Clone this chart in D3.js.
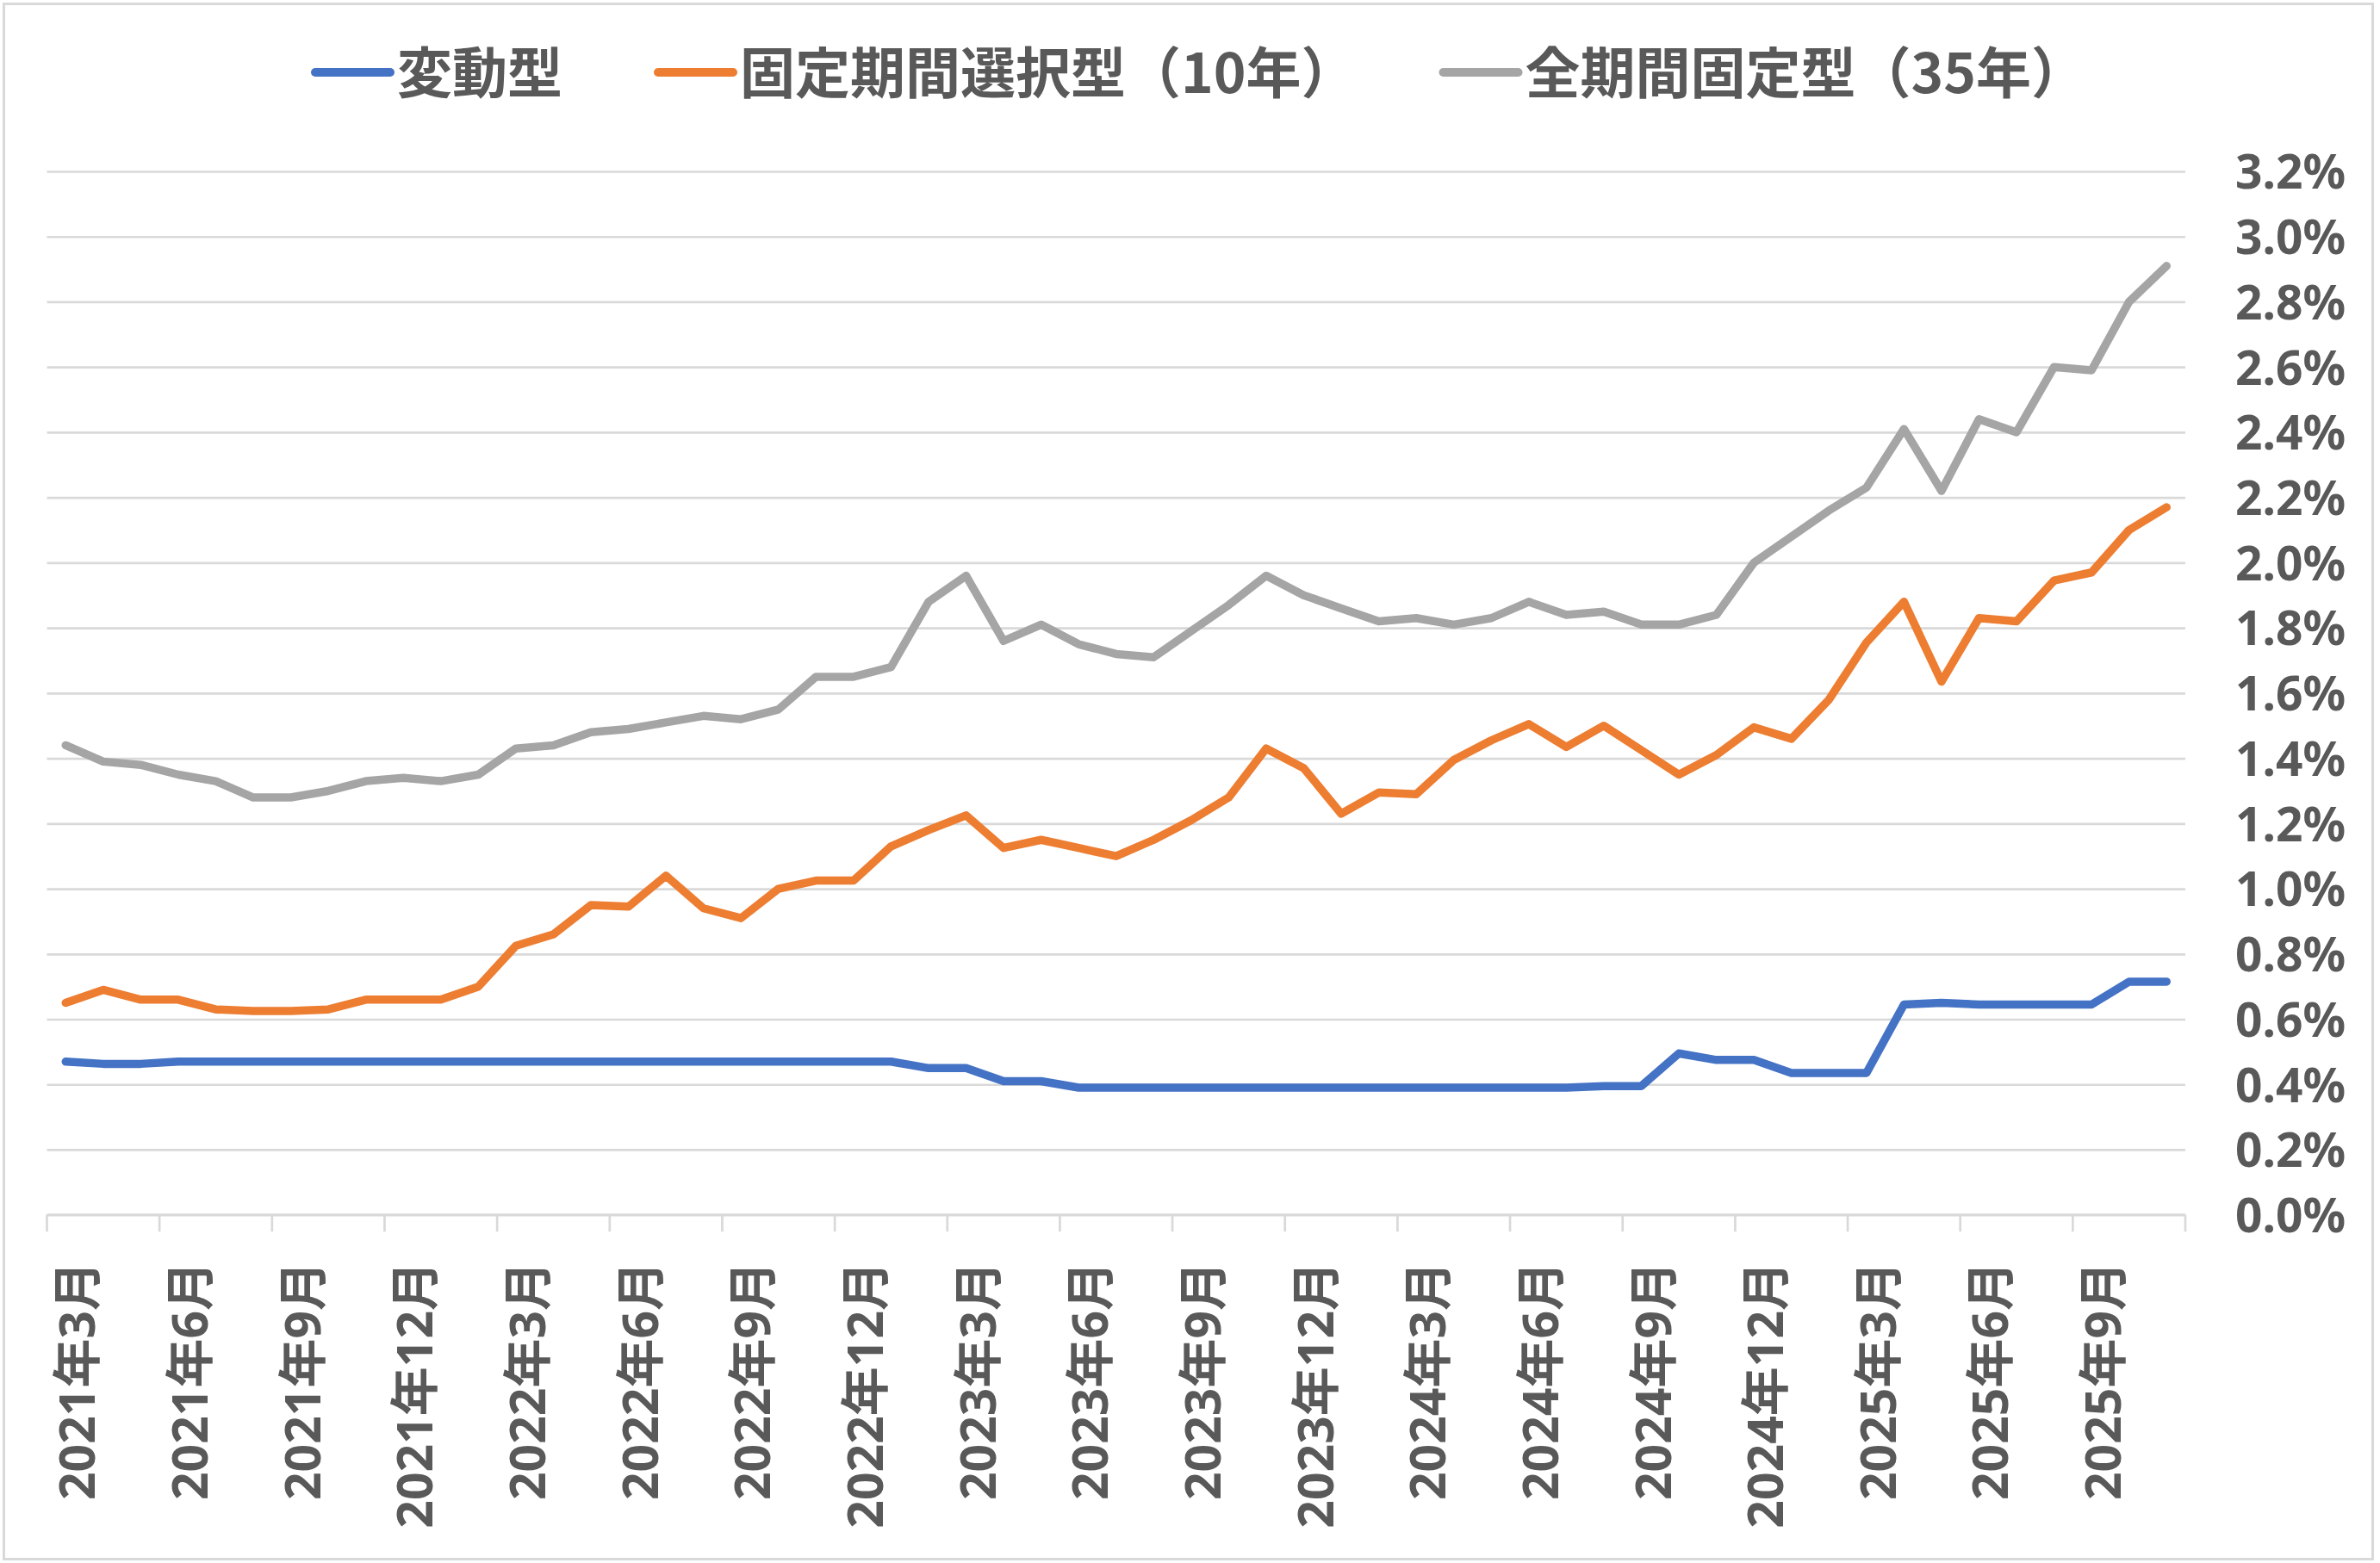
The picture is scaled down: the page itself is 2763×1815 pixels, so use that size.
<!DOCTYPE html>
<html><head><meta charset="utf-8">
<script src="https://cdn.jsdelivr.net/npm/d3@7"></script>
<style>
html,body{margin:0;padding:0;background:#fff;}
svg{display:block;}
</style></head>
<body>
<svg id="chart" width="2763" height="1815"></svg>
<script>
const months = [
"2021年3月","2021年4月","2021年5月","2021年6月","2021年7月","2021年8月","2021年9月","2021年10月","2021年11月","2021年12月",
"2022年1月","2022年2月","2022年3月","2022年4月","2022年5月","2022年6月","2022年7月","2022年8月","2022年9月","2022年10月","2022年11月","2022年12月",
"2023年1月","2023年2月","2023年3月","2023年4月","2023年5月","2023年6月","2023年7月","2023年8月","2023年9月","2023年10月","2023年11月","2023年12月",
"2024年1月","2024年2月","2024年3月","2024年4月","2024年5月","2024年6月","2024年7月","2024年8月","2024年9月","2024年10月","2024年11月","2024年12月",
"2025年1月","2025年2月","2025年3月","2025年4月","2025年5月","2025年6月","2025年7月","2025年8月","2025年9月","2025年10月","2025年11月"];

const seriesNames = ["変動型","固定期間選択型（10年）","全期間固定型（35年）"];
const seriesColors = ["#4472C4","#ED7D31","#A5A5A5"];

const variableRate = [
0.47,0.463,0.463,0.47,0.47,0.47,0.47,0.47,0.47,0.47,
0.47,0.47,0.47,0.47,0.47,0.47,0.47,0.47,0.47,0.47,0.47,0.47,
0.47,0.45,0.45,0.41,0.41,0.39,0.39,0.39,0.39,0.39,0.39,0.39,
0.39,0.39,0.39,0.39,0.39,0.39,0.39,0.395,0.395,0.495,0.475,0.475,
0.435,0.435,0.435,0.645,0.65,0.645,0.645,0.645,0.645,0.715,0.715];

const fixed10 = [
0.65,0.69,0.66,0.66,0.63,0.625,0.625,0.63,0.66,0.66,
0.66,0.70,0.825,0.86,0.95,0.945,1.04,0.94,0.91,1.00,1.025,1.025,
1.13,1.18,1.225,1.125,1.15,1.125,1.10,1.15,1.21,1.28,1.43,1.37,
1.23,1.295,1.29,1.395,1.455,1.505,1.435,1.50,1.425,1.35,1.41,1.495,
1.46,1.58,1.755,1.88,1.635,1.83,1.82,1.945,1.97,2.10,2.17];

const fixed35 = [
1.44,1.39,1.38,1.35,1.33,1.28,1.28,1.30,1.33,1.34,
1.33,1.35,1.43,1.44,1.48,1.49,1.51,1.53,1.52,1.55,1.65,1.65,
1.68,1.88,1.96,1.76,1.81,1.75,1.72,1.71,1.79,1.87,1.96,1.90,
1.86,1.82,1.83,1.81,1.83,1.88,1.84,1.85,1.81,1.81,1.84,2.00,
2.08,2.16,2.23,2.41,2.22,2.44,2.40,2.60,2.59,2.80,2.91];

const yTicks = [0,0.2,0.4,0.6,0.8,1.0,1.2,1.4,1.6,1.8,2.0,2.2,2.4,2.6,2.8,3.0,3.2];
const labelEvery = 3;

const series = [variableRate, fixed10, fixed35];

const svg = d3.select("#chart");
const W = 2763, H = 1815;
const plot = {left:54.5, right:2537, top:199, bottom:1410.7};
const textColor = "#595959";
const gridColor = "#d9d9d9";
const numFont = "'Noto Sans','Noto Sans CJK JP',sans-serif";
const cjkFont = "'Noto Sans CJK JP','Noto Sans',sans-serif";

// outer border
svg.append("rect").attr("x",4.5).attr("y",4.5).attr("width",W-13).attr("height",H-9)
  .attr("fill","#fff").attr("stroke",gridColor).attr("stroke-width",3);

const x = d3.scaleBand().domain(months).range([plot.left, plot.right]).padding(0);
const y = d3.scaleLinear().domain([0, 3.2]).range([plot.bottom, plot.top]);
const bw = x.bandwidth();

// gridlines + right labels
const yAxis = d3.axisRight(y).tickValues(yTicks)
  .tickSize(plot.right - plot.left)
  .tickFormat(d => d3.format(".1f")(d) + "%");
const gy = svg.append("g").attr("transform", `translate(${plot.left},0)`).call(yAxis);
gy.select(".domain").remove();
gy.selectAll(".tick line").attr("stroke", gridColor).attr("stroke-width", 2.7);
gy.selectAll(".tick text")
  .attr("x", 2723 - plot.left).attr("dy","0.36em").attr("text-anchor","end")
  .attr("fill", textColor).attr("font-family", numFont).attr("font-weight","bold").attr("font-size", 55);

// x axis: line + ticks every 3 months (band boundaries)
const tickIdx = d3.range(0, months.length + 1, labelEvery);
const gx = svg.append("g");
gx.append("line").attr("x1",plot.left).attr("x2",plot.right).attr("y1",plot.bottom).attr("y2",plot.bottom)
  .attr("stroke",gridColor).attr("stroke-width",2.7);
gx.selectAll("line.tk").data(tickIdx).join("line").attr("class","tk")
  .attr("x1", i => i < months.length ? x(months[i]) : plot.right)
  .attr("x2", i => i < months.length ? x(months[i]) : plot.right)
  .attr("y1", plot.bottom).attr("y2", plot.bottom + 19.5)
  .attr("stroke", gridColor).attr("stroke-width", 2.7);

const labelMonths = months.filter((m,i) => i % labelEvery === 0);
gx.selectAll("text.xl").data(labelMonths).join("text").attr("class","xl")
  .attr("transform", m => `translate(${x(m) + bw/2 + 13.5},1465) rotate(-90)`)
  .attr("text-anchor","end").attr("dy","0.36em")
  .attr("fill", textColor).attr("font-family", numFont).attr("font-weight","bold").attr("font-size", 57)
  .text(m => m);

// lines
const line = d3.line().x((d,i) => x(months[i]) + bw/2).y(d => y(d));
series.forEach((s, si) => {
  svg.append("path").datum(s).attr("d", line)
    .attr("fill","none").attr("stroke", seriesColors[si]).attr("stroke-width", 9.5)
    .attr("stroke-linejoin","round").attr("stroke-linecap","round");
});

// legend
const lg = svg.append("g");
let cx = 361;
const legY = 84, legTextY = 79.5;
const legGaps = [106, 96];
seriesNames.forEach((name, i) => {
  lg.append("line").attr("x1", cx + 5).attr("x2", cx + 92).attr("y1", legY).attr("y2", legY)
    .attr("stroke", seriesColors[i]).attr("stroke-width", 10).attr("stroke-linecap","round");
  const t = lg.append("text").attr("x", cx + 100).attr("y", legTextY)
    .attr("dominant-baseline","central")
    .attr("fill", textColor).attr("font-family", cjkFont).attr("font-weight","bold").attr("font-size", 64)
    .text(name);
  const len = t.node().getComputedTextLength();
  cx = cx + 100 + len + (legGaps[i] || 0);
});
</script>
</body></html>
